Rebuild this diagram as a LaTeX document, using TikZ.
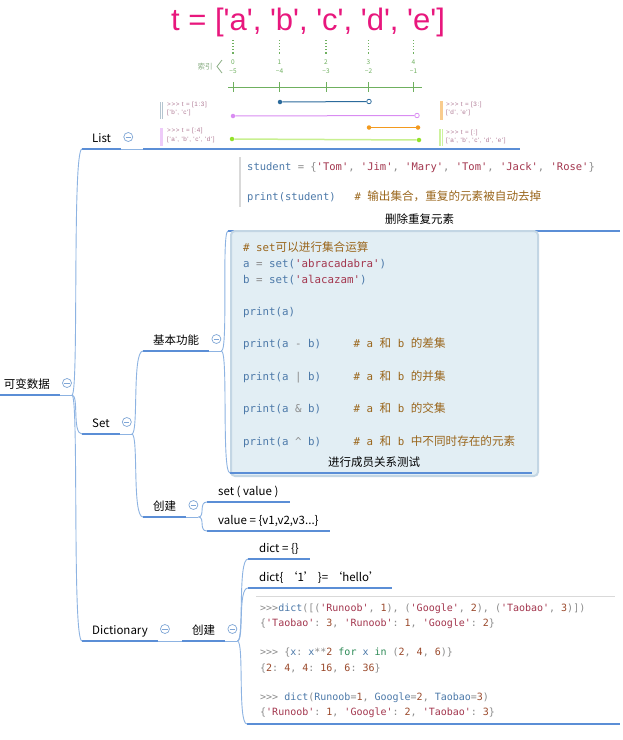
\documentclass[tikz,border=0pt]{standalone}
\usepackage{fontspec}
\setmainfont{Noto Sans CJK SC}
\setmonofont{DejaVu Sans Mono}
\newfontfamily\cjk{Noto Sans CJK SC}
\newfontfamily\titlefont[Ligatures=TeXOff]{Liberation Sans}
\newfontfamily\notefont[Ligatures=TeXOff,LetterSpace=10]{Liberation Sans}
\usetikzlibrary{calc,positioning}
\definecolor{mapblue}{HTML}{5B8ED6}
\definecolor{twigblue}{HTML}{8DB3E2}
\definecolor{foldblue}{HTML}{7FA6D6}
\definecolor{titlepink}{HTML}{E8177D}
\definecolor{idxgreen}{HTML}{6FB05F}
\definecolor{idxgray}{HTML}{8AAE84}
\definecolor{notepink}{HTML}{B07A95}
\definecolor{sliceblue}{HTML}{2C6B9C}
\definecolor{sliceviolet}{HTML}{D98CF2}
\definecolor{sliceorange}{HTML}{F39A1E}
\definecolor{slicelime}{HTML}{93E22A}
\definecolor{limepale}{HTML}{C8F090}
\definecolor{codeblue}{HTML}{4C79A9}
\definecolor{codestr}{HTML}{A3364E}
\definecolor{codenum}{HTML}{9B4A2C}
\definecolor{codecom}{HTML}{9A661C}
\definecolor{codepun}{HTML}{8C8C8C}
\definecolor{codegreen}{HTML}{2E8B57}
\definecolor{boxfill}{HTML}{E2EEF4}
\definecolor{boxline}{HTML}{C3D6E4}
\definecolor{barline}{HTML}{D9D9D9}
\newcommand\st[1]{\textcolor{codestr}{#1}}
\newcommand\nm[1]{\textcolor{codenum}{#1}}
\newcommand\cm[1]{\textcolor{codecom}{#1}}
\newcommand\pu[1]{\textcolor{codepun}{#1}}
\newcommand\kg[1]{\textcolor{codegreen}{#1}}
\newcommand\zh[1]{{\cjk\fontsize{11.6}{12}\selectfont #1}}
\tikzset{
  topic/.style={anchor=south west,inner xsep=10pt,inner ysep=0pt,text height=9pt,text depth=6pt,
    font=\fontsize{11.5}{14}\selectfont},
  leaf/.style={topic,inner xsep=11pt},
  stem/.style={line width=2.6pt,color=mapblue},
  twig/.style={line width=.9pt,color=twigblue},
  limb/.style={to path={.. controls ($(\tikztostart)+(7,0)$) and (\tikztostart |- \tikztotarget) .. (\tikztotarget)}},
  fold/.style={circle,draw=foldblue,fill=white,line width=.7pt,minimum size=9pt,inner sep=0pt,
    path picture={\draw[foldblue,line width=.7pt] ([xshift=-2.6pt]path picture bounding box.center)
      -- ([xshift=2.6pt]path picture bounding box.center);}},
  code/.style={anchor=base west,inner sep=0pt,font=\ttfamily\fontsize{10.5}{12}\selectfont,text=codeblue},
  opscode/.style={code,font=\ttfamily\fontsize{10.8}{12}\selectfont},
  dcode/.style={code,font=\ttfamily\fontsize{10}{12}\selectfont},
  note/.style={anchor=north west,inner sep=0pt,align=left,font=\notefont\fontsize{6.3}{8.5}\selectfont,text=notepink},
  idx/.style={inner sep=0pt,font=\fontsize{6.5}{7}\selectfont,text=idxgreen},
  caption/.style={inner sep=0pt,font=\fontsize{11.5}{14}\selectfont},
  dot/.style={circle,inner sep=0pt,minimum size=4.5pt},
}
\begin{document}
\begin{tikzpicture}[x=1pt,y=-1pt]
  \path[use as bounding box,fill=white] (0,0) rectangle (623,740);

  % list slicing picture
  \node[font=\titlefont\fontsize{31}{34}\selectfont,text=titlepink] (title) at (308,22) {t = ['a', 'b', 'c', 'd', 'e']};
  \foreach \x/\i/\j in {233/0/5,279.5/1/4,326/2/3,368.5/3/2,413.5/4/1}{
    \draw[idxgreen,dotted,line width=1.1pt] (\x,40) -- (\x,54);
    \node[idx] (pos\i) at (\x,62) {\i};
    \node[idx] (neg\i) at (\x,71) {−\j};
    \draw[idxgreen,line width=.8pt] (\x,82) -- (\x,92);
  }
  \draw[idxgreen,line width=.8pt] (228,87) -- (422,87);
  \node[inner sep=0pt,font=\fontsize{7.5}{8}\selectfont,text=idxgray] (idxlabel) at (205,67) {索引};
  \draw[idxgray,line width=.8pt] (222,60) -- (217,66.5) -- (222,73);

  \node[dot,fill=sliceblue] (b1) at (280,102) {};
  \node[dot,draw=sliceblue,fill=white,line width=.8pt] (b3) at (369,101.5) {};
  \draw[sliceblue,line width=1pt] (b1) -- (b3);
  \node[dot,fill=sliceviolet] (v0) at (233,116) {};
  \node[dot,draw=sliceviolet,fill=white,line width=.8pt] (v5) at (417,115.5) {};
  \draw[sliceviolet,line width=1pt] (v0) -- (v5);
  \node[dot,fill=sliceorange] (o3) at (369,127.5) {};
  \node[dot,fill=sliceorange] (o5) at (418,127.5) {};
  \draw[sliceorange,line width=1pt] (o3) -- (o5);
  \node[dot,fill=slicelime] (g0) at (232,139) {};
  \node[dot,fill=slicelime] (g5) at (419,140) {};
  \draw[limepale,line width=1.5pt] (g0) -- (g5);

  \draw[color=boxline!80!gray,line width=1pt] (160,102) -- (160,119) (162.5,102) -- (162.5,119);
  \node[note] (n13) at (167,101.5) {>>> t = [1:3]\\{}['b', 'c']};
  \draw[color=sliceviolet!45,line width=3pt] (161.5,128) -- (161.5,146);
  \node[note] (n04) at (167,128) {>>> t = [:4]\\{}['a', 'b', 'c', 'd']};
  \draw[color=sliceorange!50,line width=3pt] (441,101) -- (441,120);
  \node[note] (n3e) at (446,101.5) {>>> t = [3:]\\{}['d', 'e']};
  \draw[color=slicelime!45,line width=1.2pt] (440,129) -- (440,146) (442.5,129) -- (442.5,146);
  \node[note] (nall) at (446,129.5) {>>> t = [:]\\{}['a', 'b', 'c', 'd', 'e']};

  % mind map trunk
  \node[topic,anchor=south east] (root) at (60,395) {可变数据};
  \draw[stem] (root.south west) -- (root.south east);
  \draw[twig] (root.south east) -- ++(12,0) coordinate (root-j);
  \node[fold] (root-f) at ($(root.south east)+(7,-12)$) {};

  \node[topic] (list) at (82,149) {List};
  \draw[stem] (list.south west) -- (list.south east);
  \coordinate (slice) at (143,149);
  \draw[twig] (list.south east) -- (slice);
  \node[fold] (list-f) at ($(list.south east)+(7,-12)$) {};
  \draw[stem] (slice) -- (520,149);

  \node[topic] (set) at (82,434) {Set};
  \draw[stem] (set.south west) -- (set.south east);
  \draw[twig] (set.south east) -- ++(12,0) coordinate (set-j);
  \node[fold] (set-f) at ($(set.south east)+(7,-12)$) {};

  \node[topic] (dict) at (82,641) {Dictionary};
  \draw[stem] (dict.south west) -- (dict.south east);
  \node[fold] (dict-f) at ($(dict.south east)+(7,-12)$) {};

  \draw[twig] (root-j) to[limb] (list.south west);
  \draw[twig] (root-j) to[limb] (set.south west);
  \draw[twig] (root-j) to[limb] (dict.south west);

  % set
  \node[topic] (basic) at (143,351) {基本功能};
  \draw[stem] (basic.south west) -- (basic.south east);
  \draw[twig] (basic.south east) -- ++(12,0) coordinate (basic-j);
  \node[fold] (basic-f) at ($(basic.south east)+(7,-12)$) {};

  \node[topic] (make) at (143,517) {创建};
  \draw[stem] (make.south west) -- (make.south east);
  \draw[twig] (make.south east) -- ++(12,0) coordinate (make-j);
  \node[fold] (make-f) at ($(make.south east)+(7,-12)$) {};

  \draw[twig] (set-j) to[limb] (basic.south west);
  \draw[twig] (set-j) to[limb] (make.south west);

  \draw[color=barline,line width=1.5pt] (240,157) -- (240,207);
  \node[code] (stud1) at (247,170) {student \pu{=} \pu{\{}\st{'Tom'}\pu{,} \st{'Jim'}\pu{,} \st{'Mary'}\pu{,} \st{'Tom'}\pu{,} \st{'Jack'}\pu{,} \st{'Rose'}\pu{\}}};
  \node[code] (stud2) at (247,200) {print(student)\ \ \ \cm{\# \zh{输出集合，重复的元素被自动去掉}}};
  \node[caption] (dup) at (419.5,219) {删除重复元素};
  \coordinate (stud) at (228,231);
  \draw[stem] (stud) -- (620,231);

  \node[anchor=south west,draw=boxline,fill=boxfill,line width=2pt,rounded corners=4pt,
    minimum width=307pt,minimum height=245pt] (ops) at (230,477) {};
  \node[opscode] (ops1) at (243,251) {\cm{\# set\zh{可以进行集合运算}}};
  \node[opscode] (ops2) at (243,267) {a \pu{=} set(\st{'abracadabra'})};
  \node[opscode] (ops3) at (243,283) {b \pu{=} set(\st{'alacazam'})};
  \node[opscode] (ops4) at (243,315) {print(a)};
  \node[opscode] (ops5) at (243,347) {print(a \pu{-} b)\ \ \ \ \ \cm{\# a \zh{和} b \zh{的差集}}};
  \node[opscode] (ops6) at (243,380) {print(a \pu{|} b)\ \ \ \ \ \cm{\# a \zh{和} b \zh{的并集}}};
  \node[opscode] (ops7) at (243,412) {print(a \pu{\&} b)\ \ \ \ \ \cm{\# a \zh{和} b \zh{的交集}}};
  \node[opscode] (ops8) at (243,445) {print(a \pu{\textasciicircum} b)\ \ \ \ \ \cm{\# a \zh{和} b \zh{中不同时存在的元素}}};
  \node[caption] (member) at (374,462) {进行成员关系测试};
  \coordinate (ops-u) at (230,473);
  \draw[stem] (ops-u) -- (532,473);

  \draw[twig] (basic-j) to[limb] (stud);
  \draw[twig] (basic-j) to[limb] (ops-u);

  \node[leaf] (sv) at (207,502) {set ( value )};
  \draw[stem] (sv.south west) -- (sv.south east);
  \node[leaf] (vv) at (207,531) {value = \{v1,v2,v3...\}};
  \draw[stem] (vv.south west) -- (vv.south east);
  \draw[twig] (make-j) to[limb] (sv.south west);
  \draw[twig] (make-j) to[limb] (vv.south west);

  % dictionary
  \node[topic] (dmake) at (182,641) {创建};
  \draw[twig] (dict.south east) -- (dmake.south west);
  \draw[stem] (dmake.south west) -- (dmake.south east);
  \draw[twig] (dmake.south east) -- ++(12,0) coordinate (dmake-j);
  \node[fold] (dmake-f) at ($(dmake.south east)+(7,-12)$) {};

  \node[leaf] (de) at (248,559) {dict = \{\}};
  \draw[stem] (de.south west) -- (de.south east);
  \node[leaf] (dk) at (248,588) {dict\{ ‘1’ \}= ‘hello’};
  \draw[stem] (dk.south west) -- (dk.south east);

  \draw[color=barline,line width=.8pt] (256,596) -- (615,596);
  \node[dcode] (dc1) at (260,611.5) {\pu{>>>}dict\pu{([(}\st{'Runoob'}\pu{,} \nm{1}\pu{),} \pu{(}\st{'Google'}\pu{,} \nm{2}\pu{),} \pu{(}\st{'Taobao'}\pu{,} \nm{3}\pu{)])}};
  \node[dcode] (dc2) at (260,626.5) {\pu{\{}\st{'Taobao'}\pu{:} \nm{3}\pu{,} \st{'Runoob'}\pu{:} \nm{1}\pu{,} \st{'Google'}\pu{:} \nm{2}\pu{\}}};
  \node[dcode] (dc3) at (260,655.5) {\pu{>>> \{}x\pu{:} x\pu{**}\nm{2} \kg{for} x \kg{in} \pu{(}\nm{2}\pu{,} \nm{4}\pu{,} \nm{6}\pu{)\}}};
  \node[dcode] (dc4) at (260,671.5) {\pu{\{}\nm{2}\pu{:} \nm{4}\pu{,} \nm{4}\pu{:} \nm{16}\pu{,} \nm{6}\pu{:} \nm{36}\pu{\}}};
  \node[dcode] (dc5) at (260,700.5) {\pu{>>>} dict\pu{(}Runoob\pu{=}\nm{1}\pu{,} Google\pu{=}\nm{2}\pu{,} Taobao\pu{=}\nm{3}\pu{)}};
  \node[dcode] (dc6) at (260,715.5) {\pu{\{}\st{'Runoob'}\pu{:} \nm{1}\pu{,} \st{'Google'}\pu{:} \nm{2}\pu{,} \st{'Taobao'}\pu{:} \nm{3}\pu{\}}};
  \coordinate (dcode) at (247,724);
  \draw[stem] (dcode) -- (620,724);

  \draw[twig] (dmake-j) to[limb] (de.south west);
  \draw[twig] (dmake-j) to[limb] (dk.south west);
  \draw[twig] (dmake-j) to[limb] (dcode);
\end{tikzpicture}
\end{document}
